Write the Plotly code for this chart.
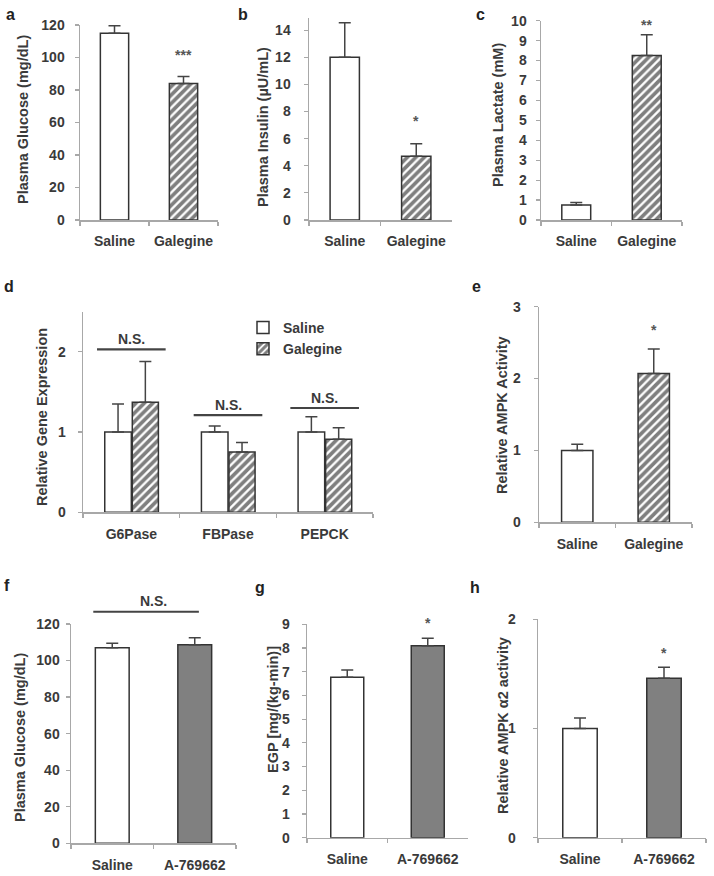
import plotly.graph_objects as go

W, H = 714, 876

# ---------------- data ----------------
groups_gal = ["Saline", "Galegine"]
groups_a769 = ["Saline", "A-769662"]

glucose_a = [115.0, 84.0]
glucose_a_err = [4.5, 4.3]
insulin_b = [12.0, 4.7]
insulin_b_err = [2.55, 0.93]
lactate_c = [0.75, 8.26]
lactate_c_err = [0.13, 1.04]

genes_d = ["G6Pase", "FBPase", "PEPCK"]
gene_saline_d = [1.0, 1.0, 1.0]
gene_saline_d_err = [0.35, 0.075, 0.19]
gene_galegine_d = [1.37, 0.75, 0.91]
gene_galegine_d_err = [0.51, 0.12, 0.145]
ns_levels_d = [2.03, 1.21, 1.30]

ampk_e = [1.0, 2.07]
ampk_e_err = [0.085, 0.34]

glucose_f = [107.0, 108.6]
glucose_f_err = [2.5, 3.9]
ns_level_f = 126.7
egp_g = [6.77, 8.1]
egp_g_err = [0.3, 0.31]
ampk_h = [1.0, 1.46]
ampk_h_err = [0.097, 0.10]

# significance star positions (value units) for the 2nd group
stars = {"a": ("***", 103.4), "b": ("*", 7.5), "c": ("**", 9.93),
         "e": ("*", 2.72), "g": ("*", 9.19), "h": ("*", 1.72)}

# ---------------- styles ----------------
FONT = "Liberation Sans, Arial, sans-serif"
TXT = "#3a3a3a"
AX = "#a8a8a8"
OUT = "#333333"
ERR = dict(color="#444444", thickness=1.5, width=6)

white_style = dict(color="white", line=dict(color=OUT, width=1.5))
hatch_style = dict(color="white", line=dict(color=OUT, width=1.5),
                   pattern=dict(shape="/", fgcolor="#000000", bgcolor="white",
                                size=6, solidity=0.62))
gray_style = dict(color="#808080", line=dict(color=OUT, width=1.5))

# panel layout in pixels: (x0, x1, ytop, ybottom)
panels = {
    "a": dict(ax=1, box=(80, 218, 25, 220), rng=120, dtick=20, gap=12,
              title="Plasma Glucose (mg/dL)", tpos=(23, 120),
              letter=(10, 14)),
    "b": dict(ax=2, box=(309, 452, 18, 220), rng=14.9, dtick=2, gap=15,
              title="Plasma Insulin (µU/mL)", tpos=(263, 127),
              letter=(243, 14)),
    "c": dict(ax=3, box=(541, 682, 20.7, 220), rng=10, dtick=1, gap=11,
              title="Plasma Lactate (mM)", tpos=(498, 115),
              letter=(480, 14)),
    "d": dict(ax=4, box=(83, 373, 311.7, 512.3), rng=2.5, dtick=1, gap=14,
              title="Relative Gene Expression", tpos=(42, 417),
              letter=(9, 287)),
    "e": dict(ax=5, box=(539, 692, 306.7, 522.3), rng=3, dtick=1, gap=15,
              title="Relative AMPK Activity", tpos=(502, 415),
              letter=(477, 287)),
    "f": dict(ax=6, box=(71, 236, 624, 843.3), rng=120, dtick=20, gap=8,
              title="Plasma Glucose (mg/dL)", tpos=(20, 738),
              letter=(7, 585)),
    "g": dict(ax=7, box=(307, 468, 624.3, 837.7), rng=9, dtick=1, gap=14,
              title="EGP [mg/(kg-min)]", tpos=(273, 710),
              letter=(260, 587)),
    "h": dict(ax=8, box=(538, 706, 619.3, 837.7), rng=2, dtick=1, gap=19,
              title="Relative AMPK α2 activity", tpos=(503, 726),
              letter=(475, 587)),
}

fig = go.Figure()


def axn(i):
    return "" if i == 1 else str(i)


def add_bar(panel, x, y, err, style, name=None, width=0.41, offset=None,
            showlegend=False):
    i = panels[panel]["ax"]
    kw = {}
    if offset is not None:
        kw["offset"] = offset
    fig.add_trace(go.Bar(
        x=x, y=y, width=width, marker=style, name=name,
        showlegend=showlegend, legendgroup=name,
        error_y=dict(type="data", array=err, arrayminus=[0] * len(err),
                     symmetric=False, **ERR),
        xaxis="x" + axn(i), yaxis="y" + axn(i), **kw))


add_bar("a", groups_gal, [glucose_a[0], None], [glucose_a_err[0], 0], white_style)
add_bar("a", groups_gal, [None, glucose_a[1]], [0, glucose_a_err[1]], hatch_style)
add_bar("b", groups_gal, [insulin_b[0], None], [insulin_b_err[0], 0], white_style)
add_bar("b", groups_gal, [None, insulin_b[1]], [0, insulin_b_err[1]], hatch_style)
add_bar("c", groups_gal, [lactate_c[0], None], [lactate_c_err[0], 0], white_style)
add_bar("c", groups_gal, [None, lactate_c[1]], [0, lactate_c_err[1]], hatch_style)

add_bar("d", genes_d, gene_saline_d, gene_saline_d_err, white_style,
        name="Saline", width=0.275, offset=-0.275, showlegend=True)
add_bar("d", genes_d, gene_galegine_d, gene_galegine_d_err, hatch_style,
        name="Galegine", width=0.27, offset=0.01, showlegend=True)

add_bar("e", groups_gal, [ampk_e[0], None], [ampk_e_err[0], 0], white_style)
add_bar("e", groups_gal, [None, ampk_e[1]], [0, ampk_e_err[1]], hatch_style)
add_bar("f", groups_a769, [glucose_f[0], None], [glucose_f_err[0], 0], white_style)
add_bar("f", groups_a769, [None, glucose_f[1]], [0, glucose_f_err[1]], gray_style)
add_bar("g", groups_a769, [egp_g[0], None], [egp_g_err[0], 0], white_style)
add_bar("g", groups_a769, [None, egp_g[1]], [0, egp_g_err[1]], gray_style)
add_bar("h", groups_a769, [ampk_h[0], None], [ampk_h_err[0], 0], white_style)
add_bar("h", groups_a769, [None, ampk_h[1]], [0, ampk_h_err[1]], gray_style)

layout = dict(
    width=W, height=H,
    margin=dict(l=0, r=0, t=0, b=0, pad=0, autoexpand=False),
    paper_bgcolor="white", plot_bgcolor="white", barmode="overlay",
    font=dict(family=FONT, color=TXT, size=14),
    legend=dict(x=243 / W, y=1 - 312 / H, xanchor="left", yanchor="top",
                bgcolor="rgba(0,0,0,0)", font=dict(size=14, weight="bold"),
                itemwidth=30, tracegroupgap=0),
)

annotations = []
shapes = []

for key, p in panels.items():
    i = p["ax"]
    x0, x1, yt, yb = p["box"]
    ncat = 3 if key == "d" else 2
    layout["xaxis" + axn(i)] = dict(
        domain=[x0 / W, x1 / W], anchor="y" + axn(i), type="category",
        range=[-0.5, ncat - 0.5], showline=True, linecolor=AX, linewidth=1.5,
        ticks="outside", tickson="boundaries", ticklen=4, tickcolor=AX,
        tickwidth=1.2, showgrid=False, zeroline=False, fixedrange=True,
        automargin=False, ticklabelstandoff=8,
        tickfont=dict(size=14, weight="bold", color=TXT))
    layout["yaxis" + axn(i)] = dict(
        domain=[1 - yb / H, 1 - yt / H], anchor="x" + axn(i),
        range=[0, p["rng"]], dtick=p["dtick"], tick0=0, showline=True,
        linecolor=AX, linewidth=1.5, ticks="outside", ticklen=4,
        tickcolor=AX, tickwidth=1.2, showgrid=False, zeroline=False,
        fixedrange=True, automargin=False,
        ticklabelstandoff=max(p["gap"] - 5, 0),
        tickfont=dict(size=14, weight="bold", color=TXT))
    # y-axis title
    tx, ty = p["tpos"]
    annotations.append(dict(
        text=p["title"], x=tx / W, y=1 - ty / H, xref="paper", yref="paper",
        textangle=-90, showarrow=False, xanchor="center", yanchor="middle",
        font=dict(size=14.5, weight="bold", color=TXT)))
    # panel letter
    lx, ly = p["letter"]
    annotations.append(dict(
        text=key, x=lx / W, y=1 - ly / H, xref="paper", yref="paper",
        showarrow=False, xanchor="center", yanchor="middle",
        font=dict(size=16, weight="bold", color="#222222")))
    # significance stars (axis-domain units so they may sit above the range)
    if key in stars:
        s, lvl = stars[key]
        cats = groups_a769 if key in "fgh" else groups_gal
        annotations.append(dict(
            text=s, x=cats[1], y=lvl / p["rng"], xref="x" + axn(i),
            yref="y" + axn(i) + " domain",
            showarrow=False, yanchor="middle", yshift=-3,
            font=dict(size=14, weight="bold", color="#555555")))

# N.S. brackets in panel d
for k, g in enumerate(genes_d):
    shapes.append(dict(type="line", xref="x4", yref="y4",
                       x0=k - 0.355, x1=k + 0.355,
                       y0=ns_levels_d[k], y1=ns_levels_d[k],
                       line=dict(color="#444444", width=2.2)))
    annotations.append(dict(text="N.S.", x=g, y=ns_levels_d[k], xref="x4",
                            yref="y4", showarrow=False, yanchor="bottom",
                            yshift=0, font=dict(size=14, weight="bold",
                                                color=TXT)))

# N.S. bracket in panel f (above the axis top)
frac_f = ns_level_f / panels["f"]["rng"]
shapes.append(dict(type="line", xref="x6", yref="y6 domain",
                   x0=-0.23, x1=1.05, y0=frac_f, y1=frac_f,
                   line=dict(color="#444444", width=2.2)))
annotations.append(dict(text="N.S.", x=0.5, y=frac_f, xref="x6",
                        yref="y6 domain", showarrow=False, yanchor="bottom",
                        yshift=1, font=dict(size=14, weight="bold", color=TXT)))

layout["annotations"] = annotations
layout["shapes"] = shapes
fig.update_layout(**layout)

fig.write_html(
    "out.html",
    config={"displayModeBar": False, "staticPlot": True},
    post_script="document.body.style.margin='0';document.body.style.overflow='hidden';")
